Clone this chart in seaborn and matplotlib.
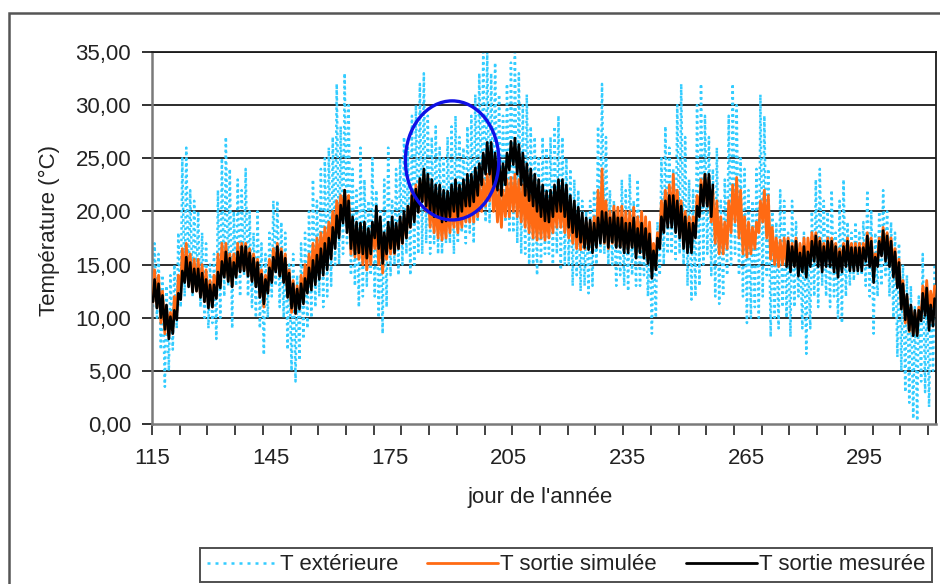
import numpy as np
import pandas as pd
import matplotlib
matplotlib.use("Agg")
import matplotlib.pyplot as plt
import seaborn as sns
from matplotlib.patches import Ellipse, Rectangle
from matplotlib.lines import Line2D
from matplotlib.ticker import FuncFormatter

nan = np.nan
first_day = 115

# Daily extremes of outdoor air temperature (°C), days 115..312
ext_max = [17, 16, 14, 13, 14, 15, 18, 25, 26, 22,
           21, 20, 18, 17, 15, 16, 22, 25, 27, 24,
           20, 23, 22, 24, 20, 18, 20, 17, 16, 18,
           21, 21, 19, 18, 15, 16, 14, 17, 18, 20,
           23, 21, 24, 25, 26, 27, 32, 28, 33, 30,
           24, 22, 26, 23, 21, 25, 22, 20, 23, 26,
           21, 24, 25, 27, 26, 29, 30, 32, 33, 29,
           27, 28, 26, 25, 27, 28, 29, 27, 26, 28,
           29, 31, 33, 35, 35, 33, 34, 31, 29, 32,
           34, 35, 33, 30, 31, 28, 27, 25, 27, 26,
           27, 28, 29, 27, 25, 24, 23, 22, 21, 20,
           21, 22, 28, 32, 27, 22, 21, 20, 23, 22,
           23.5, 21, 23, 20, 19, 18, 17, 19, 25, 28,
           26, 24, 30, 32, 27, 23, 22, 30, 32, 29,
           27, 24, 26, 21, 23, 29, 32, 30, 25, 24,
           22, 21, 24, 31, 29, 24, 20, 19, 22, 21,
           18, 21, 19, 17, 18, 16, 20, 23, 24, 21,
           20, 22, 18, 21, 23, 19, 18, 19, 18, 19,
           22, 20, 18, 20, 22, 20, 19, 18, 17, 15,
           14, 13, 11, 12, 16, 13, 12, 15]
ext_min = [11, 10, 7, 3.5, 5, 7, 9, 11, 12, 13,
           12, 13, 11, 10, 9, 9.5, 8, 10, 12, 13,
           9, 13, 12, 14, 12, 11, 10, 9, 6.5, 10,
           12, 13, 11, 10, 7, 5, 4, 6, 8, 9,
           10, 11, 12, 11, 12, 13, 15, 15, 16, 17,
           14, 13, 11, 12, 13, 14, 12, 10, 8.5, 11,
           14, 15, 14, 15, 16, 14, 15, 16, 16, 17,
           16, 17, 16, 16, 17, 17, 16, 17, 18, 17,
           18, 17, 19, 20, 19, 19, 20, 19, 18.5, 19,
           18, 18, 17, 16, 16, 15, 15, 14, 15, 16,
           16, 15, 16, 14.5, 15, 15, 13, 14, 12.5, 13,
           12.3, 13, 15, 16, 16, 15, 15, 13, 14, 13,
           12.5, 14, 13, 13, 14, 12, 8.5, 10, 14, 15,
           16, 16, 15.5, 16, 15, 13, 11.7, 12, 13, 15,
           16, 14, 12, 11.3, 12, 14, 15, 16, 14, 12,
           9.5, 10, 11, 10, 12, 14, 8.2, 10, 9, 11,
           10, 8.2, 11, 12, 9, 6.6, 9, 12, 11, 13,
           12, 11, 12, 10, 9.5, 12, 13, 13.5, 14, 14,
           13, 12, 8.5, 12, 13, 14, 12, 10, 6.3, 5,
           3, 2, 0.5, 0.3, 4, 3, 1.6, 5]

# Daily extremes of simulated outlet temperature (°C)
sim_min = [11.5, 11, 9.5, 8.5, 8.3, 9, 10.5, 12.5, 13.5, 13,
           12.5, 12.5, 12, 11.5, 11, 11, 12, 13, 14, 13.5,
           13, 14, 14.5, 14.5, 14, 13.5, 13, 12, 11, 12.5,
           13.5, 14.5, 14, 13.5, 12, 10.5, 10.4, 11, 12, 13,
           13.5, 14.5, 15, 15.5, 16, 17, 18, 19, 20, 19,
           16, 15.7, 15.5, 15, 14.5, 15, 16.5, 15, 14.2, 15.5,
           16, 16, 16.5, 17, 17.5, 18.5, 19.5, 20, 21, 20,
           18.5, 18, 17.5, 17.3, 17.5, 18, 18.5, 18, 18.5, 19,
           19, 19, 19.5, 20, 20.5, 21, 20, 19, 18.5, 19.5,
           19.5, 20, 19.5, 19, 18.5, 18, 17.5, 17.3, 17.5, 17.3,
           17.5, 18, 18.5, 18.5, 18, 17.5, 17, 16.5, 16.4, 16.5,
           16.5, 16.5, 17, 18, 17, 16.5, 17, 16.7, 16.7, 16.5,
           16.5, 16.7, 16, 16.5, 16, 15.5, 14.5, 15.5, 17.5, 19,
           19, 19, 18.5, 18, 17, 17, 17, 18.5, 20, 21,
           20.5, 19, 17, 16, 16, 16.5, 18, 19, 17.5, 16,
           15.7, 16, 16.5, 18, 19, 17.5, 15.5, 15, 14.8, 15,
           15, 14.5, 15, 14.5, 15, 14.8, 15.5, 16, 15.5, 15,
           15.5, 15.5, 15, 14.5, 15, 15.5, 15, 15, 15, 15,
           16, 15.5, 14, 15.5, 16.5, 16, 15.5, 14.5, 13, 11,
           9.5, 8.7, 8.5, 8.5, 10, 11, 10, 11]
sim_max = [14.5, 14, 12.5, 11, 10.5, 12, 14, 16.5, 17, 16,
           15.5, 15.5, 15, 14.5, 13.5, 14, 16, 17, 17, 16,
           16, 17, 17, 17, 16.5, 16, 15.5, 14.5, 14, 15.5,
           16.5, 17, 16.5, 16, 14.5, 13.5, 13, 14, 15, 16,
           17, 17.5, 18, 18.5, 19, 20, 21, 21.5, 22, 21.5,
           19, 18.5, 18.5, 18, 18, 18.5, 19.5, 19, 17.5, 18.5,
           18.5, 18.5, 19, 19.5, 20.5, 22, 22.5, 23, 23.5, 22.5,
           21.5, 21, 20.5, 20, 20.5, 21, 21.5, 21, 21.5, 22,
           22, 22, 22.5, 23, 23.5, 24, 23, 22, 22, 23,
           23.2, 23.5, 23, 22.5, 22, 21.5, 21, 20.5, 20.5, 20,
           20.5, 21, 21.5, 21.5, 21, 20.5, 20, 19.5, 19, 19,
           19, 19.5, 22, 24, 21, 20, 20.5, 20.4, 20.5, 20,
           20, 20.4, 19.5, 20, 19.5, 19, 17, 18, 21, 22,
           22.5, 23.5, 22, 21, 20, 19.5, 19.5, 21.5, 23, 23.5,
           23, 22, 21, 19.5, 19, 21, 22.5, 23.2, 22, 19.5,
           19, 18.5, 19, 21, 22, 21.5, 18.5, 17.5, 17.3, 17.5,
           17.5, 17, 17.5, 17, 17.5, 17.5, 18, 18, 17.5, 17,
           17.5, 17.5, 17, 16.5, 17, 17.5, 17, 17, 17, 17,
           18, 17.5, 16, 17.5, 18.5, 18, 17.5, 16.5, 15.5, 13.5,
           12, 11, 10.5, 11, 13, 13.5, 12.5, 13]

# Daily extremes of measured outlet temperature (°C); no record on days 257-274
mes_min = [11.5, 10.9, 10.0, 8.9, 8.0, 8.5, 9.8, 11.7, 13.3, 12.9,
           12.4, 12.5, 11.9, 11.5, 10.9, 11.0, 11.8, 12.8, 13.8, 13.4,
           12.9, 13.8, 14.3, 14.4, 13.9, 13.4, 12.9, 11.9, 11.3, 12.3,
           13.3, 14.3, 13.9, 13.3, 11.9, 10.9, 10.4, 10.8, 11.3, 12.3,
           12.6, 13.1, 13.6, 14.0, 14.5, 15.5, 16.5, 17.5, 18.9, 18.0,
           16.5, 16.0, 16.1, 16.0, 15.6, 16.0, 17.5, 16.5, 15.1, 16.0,
           16.5, 16.1, 16.5, 17.0, 17.5, 18.5, 19.0, 19.9, 20.9, 20.5,
           20.0, 19.5, 19.5, 19.0, 19.1, 19.5, 20.0, 19.5, 20.0, 20.5,
           20.5, 20.9, 21.5, 22.5, 23.5, 23.5, 22.5, 22.0, 21.5, 22.5,
           23.9, 24.4, 23.5, 22.5, 21.5, 21.0, 20.5, 20.0, 19.5, 19.1,
           19.0, 19.5, 20.0, 20.0, 19.5, 18.5, 18.0, 17.6, 17.1, 16.6,
           16.4, 16.1, 16.6, 17.0, 17.1, 16.6, 17.1, 16.6, 16.6, 16.1,
           16.1, 16.6, 15.6, 16.1, 15.6, 15.1, 13.7, 14.5, 16.5, 18.0,
           18.5, 18.5, 18.0, 17.5, 16.5, 16.1, 16.1, 17.5, 19.5, 20.5,
           20.5, 19.5, nan, nan, nan, nan, nan, nan, nan, nan,
           nan, nan, nan, nan, nan, nan, nan, nan, nan, nan,
           14.8, 14.3, 14.8, 13.9, 14.3, 13.8, 14.8, 15.3, 14.8, 14.3,
           14.8, 14.8, 14.3, 13.8, 14.3, 14.8, 14.4, 14.4, 14.4, 14.4,
           15.3, 14.8, 13.3, 14.8, 15.8, 15.3, 14.8, 13.8, 12.8, 10.8,
           9.8, 8.8, 8.3, 8.3, 9.7, 10.2, 8.8, 9.2]
mes_max = [13.6, 13.2, 12.1, 11.2, 10.1, 10.7, 12.3, 14.4, 15.7, 15.2,
           14.6, 14.6, 14.2, 13.6, 13.1, 13.1, 14.3, 15.3, 16.2, 15.6,
           15.2, 16.2, 16.7, 16.7, 16.1, 15.6, 15.2, 14.1, 13.6, 14.7,
           15.7, 16.7, 16.2, 15.6, 14.2, 13.2, 12.7, 13.2, 13.7, 14.7,
           15.4, 15.9, 16.5, 17.0, 17.5, 18.5, 19.6, 20.6, 22.0, 21.0,
           19.5, 19.0, 18.9, 19.0, 18.4, 19.0, 20.5, 19.5, 18.0, 19.0,
           19.5, 18.9, 19.5, 20.0, 20.5, 21.5, 22.1, 23.1, 24.0, 23.5,
           23.0, 22.5, 22.5, 22.0, 21.9, 22.5, 23.0, 22.5, 23.0, 23.5,
           23.5, 24.1, 24.5, 25.5, 26.5, 26.5, 25.5, 25.0, 24.5, 25.5,
           26.6, 26.9, 26.3, 25.5, 24.5, 24.0, 23.5, 23.0, 22.5, 21.9,
           22.0, 22.5, 23.0, 23.0, 22.5, 21.5, 21.0, 20.4, 19.9, 19.4,
           19.2, 18.9, 19.4, 20.0, 19.9, 19.4, 19.9, 19.4, 19.4, 18.9,
           18.9, 19.4, 18.4, 18.9, 18.4, 17.9, 16.3, 17.5, 19.5, 21.0,
           21.5, 21.5, 21.0, 20.5, 19.5, 18.9, 18.9, 20.5, 22.5, 23.5,
           23.5, 22.5, nan, nan, nan, nan, nan, nan, nan, nan,
           nan, nan, nan, nan, nan, nan, nan, nan, nan, nan,
           17.2, 16.7, 17.2, 16.1, 16.7, 16.2, 17.2, 17.7, 17.2, 16.7,
           17.2, 17.2, 16.7, 16.2, 16.7, 17.2, 16.6, 16.6, 16.6, 16.6,
           17.7, 17.2, 15.7, 17.2, 18.2, 17.7, 17.2, 16.2, 15.2, 13.2,
           12.2, 11.2, 10.7, 10.7, 12.3, 12.8, 11.2, 11.8]

x_labels = [115, 145, 175, 205, 235, 265, 295]
y_ticks = [0, 5, 10, 15, 20, 25, 30, 35]
series_names = ["T extérieure", "T sortie simulée", "T sortie mesurée"]
colors = ["#33CCFF", "#FF6A13", "#000000"]


def daily_cycle(lows, highs):
    """Alternate each day's low (early morning) and high (afternoon)."""
    lows = np.asarray(lows, dtype=float)
    highs = np.asarray(highs, dtype=float)
    days = first_day + np.arange(len(lows))
    t = np.column_stack([days + 0.25, days + 0.65]).ravel()
    v = np.column_stack([lows, highs]).ravel()
    df = pd.DataFrame({"jour": t, "T": v})
    df["segment"] = df["T"].isna().cumsum()
    return df.dropna()


ext_df = daily_cycle(ext_min, ext_max)
sim_df = daily_cycle(sim_min, sim_max)
mes_df = daily_cycle(mes_min, mes_max)

sns.set_style("white")
plt.rcParams["font.family"] = ["Liberation Sans", "DejaVu Sans"]

fig = plt.figure(figsize=(9.4, 5.84), dpi=100)
ax = fig.add_axes([152 / 940, 1 - 424 / 584, 784 / 940, 372 / 584])

for y in y_ticks[1:]:
    ax.axhline(y, color="#1a1a1a", lw=1.3, zorder=1)

sns.lineplot(data=ext_df, x="jour", y="T", units="segment", estimator=None,
             color=colors[0], lw=1.8, linestyle=(0, (1.0, 1.3)), ax=ax,
             legend=False, zorder=2)
sns.lineplot(data=sim_df, x="jour", y="T", units="segment", estimator=None,
             color=colors[1], lw=2.0, ax=ax, legend=False, zorder=3)
sns.lineplot(data=mes_df, x="jour", y="T", units="segment", estimator=None,
             color=colors[2], lw=1.9, ax=ax, legend=False, zorder=4)

ax.add_patch(Ellipse((190.8, 24.8), 23.6, 11.2, fill=False,
                     ec="#1010E6", lw=2.4, zorder=6))

ax.set_xlim(115, 313)
ax.set_ylim(0, 35)
ax.set_yticks(y_ticks)
ax.yaxis.set_major_formatter(FuncFormatter(lambda v, _: f"{v:.2f}".replace(".", ",")))
ax.set_xticks(x_labels)
ax.set_xticks(np.arange(115, 314, 7), minor=True)
ax.xaxis.remove_overlapping_locs = False
ax.tick_params(axis="x", which="major", length=0, pad=17, labelsize=16, colors="#222222")
ax.tick_params(axis="x", which="minor", length=8, width=1.3, color="#333333", direction="out")
ax.tick_params(axis="y", which="major", length=7, width=1.3, pad=8, labelsize=16,
               color="#222222", labelcolor="#222222", direction="out")
ax.tick_params(left=True, bottom=True, which="both")

for side in ["left", "bottom"]:
    ax.spines[side].set_color("#7a7a7a")
    ax.spines[side].set_linewidth(1.8)
ax.spines["right"].set_color("#1a1a1a")
ax.spines["right"].set_linewidth(1.3)
ax.spines["top"].set_color("#1a1a1a")
ax.spines["top"].set_linewidth(1.3)

ax.set_xlabel("jour de l'année", fontsize=16, color="#222222")
ax.set_ylabel("Température (°C)", fontsize=16, color="#222222")
ax.xaxis.set_label_coords((540 - 152) / 784, (424 - 497) / 372)
ax.xaxis.label.set_va("center")
ax.yaxis.set_label_coords((49 - 152) / 784, 0.52)
ax.yaxis.label.set_va("center")

handles = [Line2D([], [], color=colors[0], lw=1.8, linestyle=(0, (1.2, 2.0))),
           Line2D([], [], color=colors[1], lw=2.0),
           Line2D([], [], color=colors[2], lw=2.0)]
leg = fig.legend(handles, series_names, loc="lower left", ncol=3,
                 bbox_to_anchor=(200 / 940, 2 / 584, 732 / 940, 41 / 584),
                 bbox_transform=fig.transFigure, mode="expand",
                 fontsize=16, frameon=True, fancybox=False, shadow=False,
                 handlelength=3.2, handletextpad=0.1, columnspacing=1.2,
                 borderpad=0.3, borderaxespad=0)
leg.get_frame().set_edgecolor("#222222")
leg.get_frame().set_linewidth(1.4)
for t in leg.get_texts():
    t.set_color("#222222")

fig.patches.append(Rectangle((9 / 940, -0.2), 1.2, 1.2 - 13 / 584,
                             transform=fig.transFigure, fill=False,
                             ec="#555555", lw=1.8))

fig.savefig("out.png", dpi=100, facecolor="white")
